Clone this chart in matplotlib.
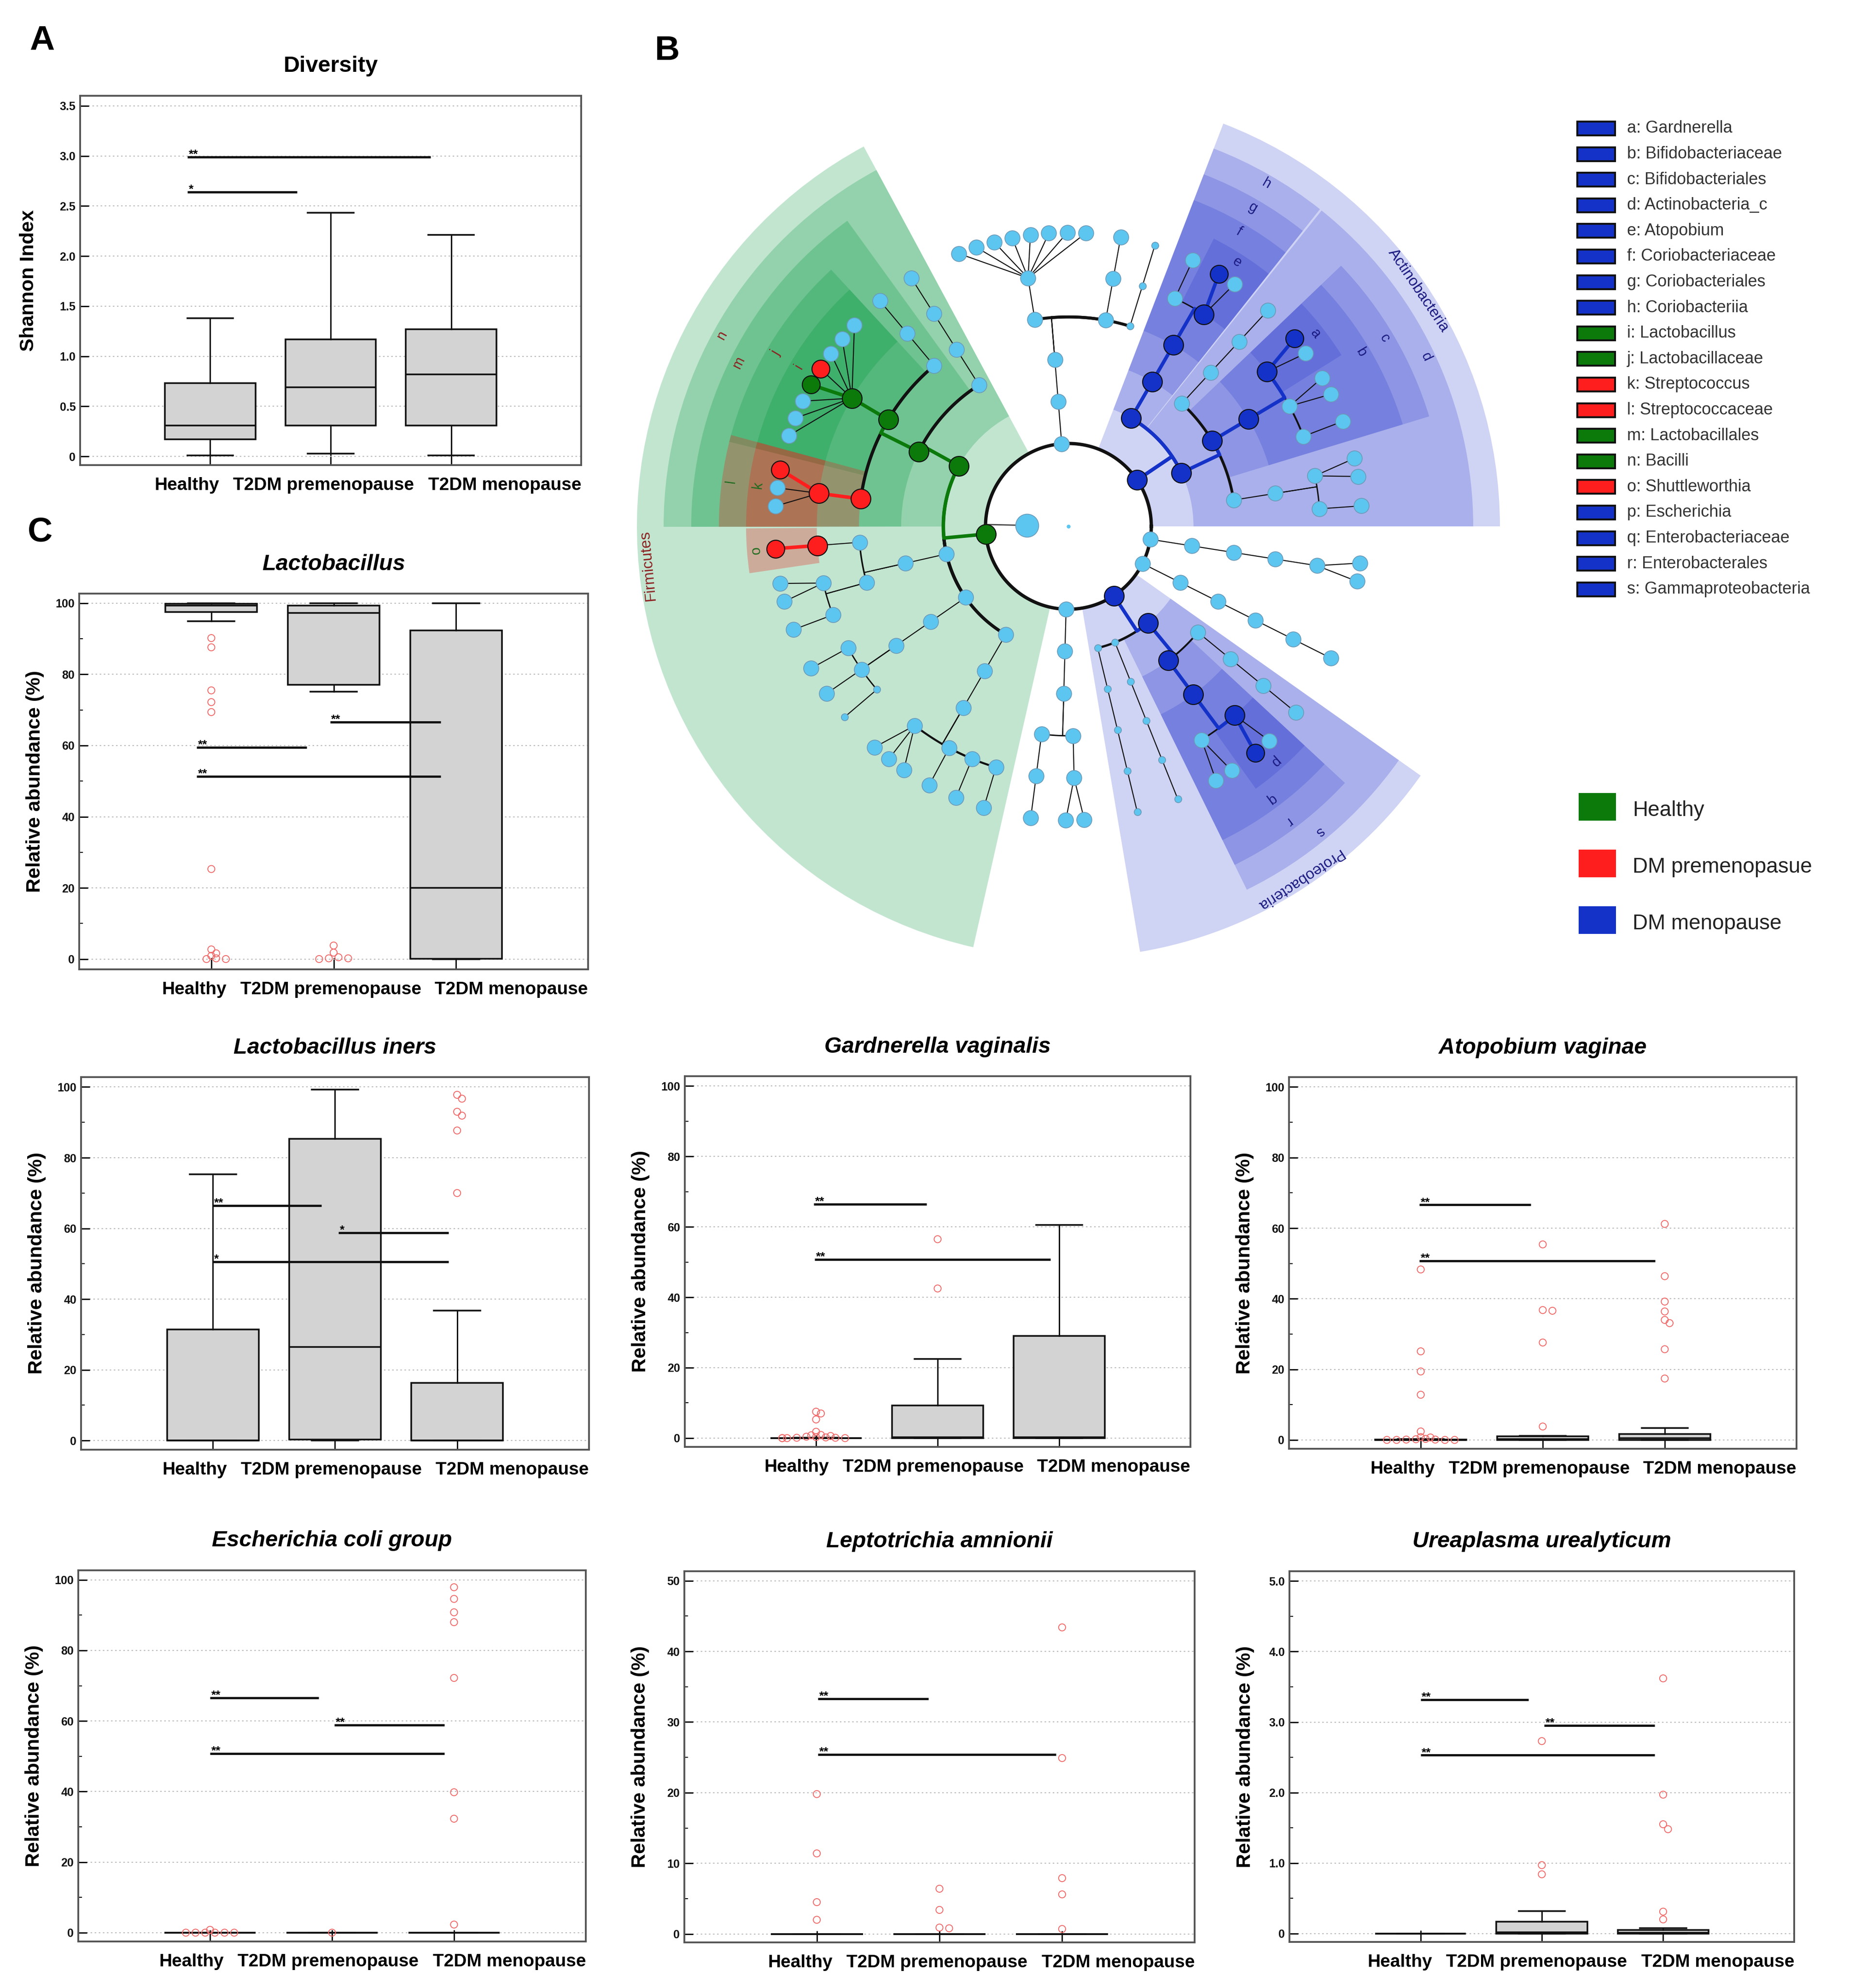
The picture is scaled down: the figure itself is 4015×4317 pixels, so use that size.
import numpy as np
import matplotlib
matplotlib.use("Agg")
import matplotlib.pyplot as plt
from matplotlib.patches import Wedge, Rectangle
from matplotlib.transforms import IdentityTransform
from matplotlib.ticker import MultipleLocator

plt.rcParams["font.family"] = ["Liberation Sans", "DejaVu Sans"]

W, H = 4015, 4317
fig = plt.figure(figsize=(W / 100, H / 100), dpi=100)

groups = ["Healthy", "T2DM premenopause", "T2DM menopause"]

# box summaries per group: whisker low, Q1, median, Q3, whisker high
div_box = [[0.01, 0.17, 0.31, 0.73, 1.38],
           [0.03, 0.31, 0.69, 1.17, 2.43],
           [0.01, 0.31, 0.82, 1.27, 2.21]]
div_out = [[], [], []]
div_sig = [(0.81, 2.83, 2.99, "**"), (0.81, 1.72, 2.64, "*")]

lac_box = [[95.0, 97.5, 99.3, 99.8, 100.0],
           [75.1, 77.1, 97.3, 99.3, 100.0],
           [0.0, 0.1, 20.0, 92.4, 100.0]]
lac_out = [[90.2, 87.6, 75.5, 72.2, 69.4, 25.3, 2.7, 1.6, 0.9, 0.2, 0.0, 0.0],
           [3.8, 1.8, 0.5, 0.2, 0.2, 0.0],
           []]
lac_sig = [(0.88, 1.78, 59.5, "**"), (0.88, 2.875, 51.3, "**"), (1.97, 2.875, 66.6, "**")]

lin_box = [[0.0, 0.0, 0.0, 31.4, 75.3],
           [0.0, 0.3, 26.5, 85.3, 99.3],
           [0.0, 0.0, 0.0, 16.3, 36.7]]
lin_out = [[], [], [97.8, 96.7, 93.0, 91.9, 87.7, 70.0]]
lin_sig = [(1.0, 1.89, 66.5, "**"), (2.03, 2.93, 58.8, "*"), (1.0, 2.93, 50.6, "*")]

gar_box = [[0.0, 0.0, 0.0, 0.0, 0.1],
           [0.0, 0.0, 0.3, 9.3, 22.5],
           [0.0, 0.0, 0.2, 29.0, 60.6]]
gar_out = [[7.5, 7.0, 5.3, 1.8, 0.9, 0.8, 0.6, 0.4, 0.3, 0.2, 0.1, 0.1, 0.0, 0.0, 0.0, 0.0],
           [56.5, 42.5],
           []]
gar_sig = [(0.98, 1.91, 66.5, "**"), (0.99, 2.93, 50.7, "**")]

ato_box = [[0.0, 0.0, 0.0, 0.1, 0.3],
           [0.0, 0.0, 0.2, 1.0, 1.2],
           [0.0, 0.0, 0.5, 1.7, 3.4]]
ato_out = [[48.3, 25.1, 19.4, 12.8, 2.4, 0.8, 0.7, 0.3, 0.2, 0.1, 0.1, 0.0, 0.0, 0.0, 0.0],
           [55.4, 36.8, 36.6, 27.6, 3.8],
           [61.2, 46.4, 39.2, 36.4, 34.0, 33.1, 25.7, 17.4]]
ato_sig = [(0.99, 1.9, 66.6, "**"), (0.99, 2.92, 50.8, "**")]

eco_box = [[0.0, 0.0, 0.0, 0.0, 0.0],
           [0.0, 0.0, 0.0, 0.0, 0.0],
           [0.0, 0.0, 0.0, 0.0, 0.0]]
eco_out = [[0.8, 0.0, 0.0, 0.0, 0.0, 0.0, 0.0],
           [0.0],
           [97.9, 94.6, 90.8, 88.0, 72.2, 39.8, 32.3, 2.3]]
eco_sig = [(1.0, 1.89, 66.6, "**"), (2.02, 2.92, 58.9, "**"), (1.0, 2.92, 50.7, "**")]

lep_box = [[0.0, 0.0, 0.0, 0.0, 0.0],
           [0.0, 0.0, 0.0, 0.0, 0.0],
           [0.0, 0.0, 0.0, 0.0, 0.0]]
lep_out = [[19.8, 11.4, 4.5, 2.0],
           [6.4, 3.4, 0.9, 0.8],
           [43.4, 24.9, 7.9, 5.6, 0.7]]
lep_sig = [(1.01, 1.91, 33.3, "**"), (1.01, 2.95, 25.4, "**")]

ure_box = [[0.0, 0.0, 0.0, 0.0, 0.0],
           [0.0, 0.0, 0.02, 0.17, 0.32],
           [0.0, 0.0, 0.01, 0.05, 0.074]]
ure_out = [[],
           [2.73, 0.97, 0.84],
           [3.62, 1.97, 1.55, 1.48, 0.31, 0.2]]
ure_sig = [(1.0, 1.89, 3.32, "**"), (2.02, 2.93, 2.95, "**"), (1.0, 2.93, 2.53, "**")]

# LEfSe biomarkers (legend of panel B)
legend_keys = list("abcdefghijklmnopqrs")
legend_names = ["Gardnerella", "Bifidobacteriaceae", "Bifidobacteriales", "Actinobacteria_c",
                "Atopobium", "Coriobacteriaceae", "Coriobacteriales", "Coriobacteriia",
                "Lactobacillus", "Lactobacillaceae", "Streptococcus", "Streptococcaceae",
                "Lactobacillales", "Bacilli", "Shuttleworthia", "Escherichia",
                "Enterobacteriaceae", "Enterobacterales", "Gammaproteobacteria"]
legend_groups = list("MMMMMMMMHHPPHHPMMMM")
phylum_groups = {"Firmicutes": "H", "Actinobacteria": "M", "Proteobacteria": "M"}
class_names = ["Healthy", "DM premenopasue", "DM menopause"]
class_keys = ["H", "P", "M"]

NODE_COL = {"H": "#0B7A0B", "P": "#FF1E1E", "M": "#1432C8"}
SHADE = {"H": "#00963C", "P": "#E8281E", "M": "#2837CD"}
ALPHA = {"H": 0.24, "P": 0.30, "M": 0.22}
LAB_COL = {"H": "#8B2020", "P": "#1E6B1E", "M": "#1A1A80"}
LB, LB_EDGE = "#5CC6F0", "#6C9AB8"


# ---------------- box panels ----------------
def swarm(ax, xc, vals):
    x0, x1 = ax.get_xlim()
    y0, y1 = ax.get_ylim()
    sx = ax.bbox.width / (x1 - x0)
    sy = ax.bbox.height / (y1 - y0)
    d = 15.0
    placed, xs = [], []
    for v in vals:
        py = v * sy
        for k in [0, 1, -1, 2, -2, 3, -3, 4, -4, 5, -5, 6, -6, 7, -7]:
            px = k * 0.7 * d
            if all(np.hypot(px - qx, py - qy) >= 0.72 * d for qx, qy in placed):
                break
        placed.append((px, py))
        xs.append(xc + px / sx)
    ax.scatter(xs, vals, s=120, facecolors="none", edgecolors="#F06A6A",
               linewidths=1.4, zorder=4, clip_on=False)


def xlabels(ax):
    rend = fig.canvas.get_renderer()
    x_right = ax.bbox.x1
    y_top = ax.bbox.y0 - 26
    for name in reversed(groups):
        t = fig.text(x_right, y_top, name, ha="right", va="top", fontsize=28,
                     fontweight="bold", transform=IdentityTransform())
        x_right -= t.get_window_extent(rend).width + 30


def panel(rect, title, box, out, sig, ylim, major, labels, minor=None,
          ylabel="Relative abundance (%)", italic=True, ylab_off=96):
    l, t, r, b = rect
    ax = fig.add_axes([l / W, 1 - b / H, (r - l) / W, (b - t) / H])
    stats = [dict(whislo=v[0], q1=v[1], med=v[2], q3=v[3], whishi=v[4], fliers=[])
             for v in box]
    ax.bxp(stats, positions=[1, 2, 3], widths=0.75, capwidths=0.38, patch_artist=True,
           showfliers=False,
           boxprops=dict(facecolor="#D3D3D3", edgecolor="#111111", linewidth=2.6),
           medianprops=dict(color="#111111", linewidth=2.6),
           whiskerprops=dict(color="#111111", linewidth=2.2),
           capprops=dict(color="#111111", linewidth=2.6))
    ax.set_xlim(-0.08, 4.08)
    ax.set_ylim(*ylim)
    ax.set_xticks([1, 2, 3])
    ax.set_xticklabels([])
    ax.set_yticks(major)
    ax.set_yticklabels(labels, fontsize=18, fontweight="bold", color="#111111")
    if minor:
        ax.yaxis.set_minor_locator(MultipleLocator(minor))
    ax.tick_params(axis="y", which="major", direction="in", length=14, width=2, pad=7)
    ax.tick_params(axis="y", which="minor", direction="in", length=6, width=1.5)
    ax.tick_params(axis="x", direction="in", length=18, width=2)
    ax.yaxis.grid(True, which="major", linestyle=(0, (1.5, 2.5)), color="#BBBBBB", lw=1.6)
    ax.set_axisbelow(True)
    for s in ax.spines.values():
        s.set_color("#555555")
        s.set_linewidth(2.8)
    for x0, x1, y, lab in sig:
        ax.plot([x0, x1], [y, y], color="#111111", lw=3.5, solid_capstyle="butt", zorder=5)
        ax.annotate(lab, (x0, y), xytext=(2, -1), textcoords="offset points", ha="left",
                    va="baseline", fontsize=19, fontweight="bold", zorder=6)
    for i, vals in enumerate(out):
        if vals:
            swarm(ax, i + 1, vals)
    h = b - t
    w = r - l
    ax.text(0.5, 1 + 64 / h, title, transform=ax.transAxes, ha="center", va="center",
            fontsize=35, fontweight="bold", style="italic" if italic else "normal")
    ax.text(-ylab_off / w, 0.5, ylabel, transform=ax.transAxes, rotation=90, ha="center",
            va="center", fontsize=31, fontweight="bold")
    xlabels(ax)
    return ax


pct = [0, 20, 40, 60, 80, 100]
pct_lab = [str(v) for v in pct]
div_t = [0, 0.5, 1.0, 1.5, 2.0, 2.5, 3.0, 3.5]
div_lab = ["0"] + ["%.1f" % v for v in div_t[1:]]
lep_t = [0, 10, 20, 30, 40, 50]
ure_t = [0, 1, 2, 3, 4, 5]
ure_lab = ["0"] + ["%.1f" % v for v in ure_t[1:]]

panel((174, 208, 1262, 1010), "Diversity", div_box, div_out, div_sig, (-0.087, 3.6),
      div_t, div_lab, ylabel="Shannon Index", italic=False, ylab_off=112)
panel((172, 1289, 1277, 2105), "Lactobacillus", lac_box, lac_out, lac_sig, (-2.9, 102.7),
      pct, pct_lab, minor=10)
panel((176, 2339, 1279, 3148), "Lactobacillus iners", lin_box, lin_out, lin_sig,
      (-2.6, 102.8), pct, pct_lab, minor=10)
panel((1487, 2337, 2585, 3142), "Gardnerella vaginalis", gar_box, gar_out, gar_sig,
      (-2.5, 102.8), pct, pct_lab, minor=10)
panel((2799, 2339, 3901, 3146), "Atopobium vaginae", ato_box, ato_out, ato_sig,
      (-2.5, 102.8), pct, pct_lab, minor=10)
panel((170, 3410, 1272, 4216), "Escherichia coli group", eco_box, eco_out, eco_sig,
      (-2.5, 102.7), pct, pct_lab, minor=10)
panel((1486, 3412, 2594, 4218), "Leptotrichia amnionii", lep_box, lep_out, lep_sig,
      (-1.2, 51.35), lep_t, [str(v) for v in lep_t], minor=5)
panel((2800, 3412, 3896, 4217), "Ureaplasma urealyticum", ure_box, ure_out, ure_sig,
      (-0.12, 5.14), ure_t, ure_lab, minor=0.5)


# ---------------- panel B: cladogram ----------------
def node(tag, *kids):
    return [tag, list(kids)]


def sp(tag=""):
    return [tag, []]


def line(k, tag=""):
    n = sp(tag)
    for _ in range(k - 1):
        n = [tag, [n]]
    return n


# root > phylum > class > order > family > genus > species
tree = node("root",
    node("Actinobacteria",
        node("d",
            node("", node("", line(2), node("", sp(), sp()))),
            node("c", node("b", line(2), node("", sp(), sp()), node("a", sp(), sp("M")))),
            line(4)),
        node("h", node("g", node("f", node("e", sp(), sp("M")), line(2))))),
    node("", node("", node("", line(3, "x"), line(3),
                           node("", node("", *[sp() for _ in range(8)]))))),
    node("Firmicutes",
        node("n",
            line(4),
            node("m", line(3),
                 node("j", node("i", sp(), sp(), sp(), sp("P"), sp("H"), sp(), sp(), sp())),
                 node("l", node("k", sp("P"), sp(), sp())))),
        node("", node("", node("", node("o", sp("P"))),
                      node("", node("", sp(), sp()), line(2)))),
        node("", node("", node("", line(2), line(2), line(2, "x")))),
        node("", node("", node("", node("", sp(), sp(), sp()), line(2), line(2), line(2))))),
    node("", node("", node("", line(3), node("", node("", sp(), sp()))))),
    node("Proteobacteria",
        line(5, "x"), line(5, "x"),
        node("s", node("r", node("q", node("", sp(), sp()), node("p", sp("M"), sp()))),
             line(4))),
    line(6),
    node("", node("", node("", node("", node("", sp(), sp()))))),
)

BIOMARK = dict(zip(legend_keys, legend_groups))
BIOMARK.update(phylum_groups)


def group_of(tag):
    if tag in ("H", "P", "M"):
        return tag
    return BIOMARK.get(tag)


leaves = []


def walk(n, path):
    path = path + [n]
    if not n[1]:
        leaves.append(path)
    for c in n[1]:
        walk(c, path)


walk(tree, [])


def lca_depth(p, q):
    d = 0
    for a, b in zip(p, q):
        if a is b:
            d += 1
        else:
            break
    return d - 1


def phylum_index(path):
    return [id(c) for c in tree[1]].index(id(path[1]))


# angular gap weights between neighbouring leaves, by depth of their common ancestor
GAPW = {1: 2.3, 2: 2.1, 3: 1.9, 4: 1.6, 5: 1.0}
# gap after each phylum (in tree order)
ROOT_GAPS = [2.2, 2.9, 2.6, 2.9, 3.5, 4.4, 3.1]
START = 4.0
cum = [0.0]
for i in range(1, len(leaves)):
    dd = lca_depth(leaves[i - 1], leaves[i])
    gap = ROOT_GAPS[phylum_index(leaves[i - 1])] if dd == 0 else GAPW[dd]
    cum.append(cum[-1] + gap)
unit = 360.0 / (cum[-1] + ROOT_GAPS[-1])
leaf_ang = {id(p[-1]): START + c * unit for p, c in zip(leaves, cum)}
info = {}


def place(n, depth):
    if not n[1]:
        angs = [leaf_ang[id(n)]]
    else:
        angs = []
        for c in n[1]:
            angs += place(c, depth + 1)
    info[id(n)] = dict(depth=depth, ang=float(np.mean(angs)), lo=min(angs), hi=max(angs),
                       nleaf=len(angs))
    return angs


place(tree, 0)


def all_nodes(n, parent=None):
    yield n, parent
    for c in n[1]:
        yield from all_nodes(c, n)


def R(depth):
    return 0.0 if depth == 0 else 180 + (depth - 1) * 91.6


R_OUT = {1: 937, 2: 879, 3: 819, 4: 759, 5: 700}
PAD = 4.0


def xy(r, a):
    t = np.deg2rad(a)
    return r * np.cos(t), r * np.sin(t)


cx, cy = 2320, 1143
cl = fig.add_axes([(cx - 1000) / W, 1 - (cy + 1000) / H, 2000 / W, 2000 / H])
cl.set_xlim(-1000, 1000)
cl.set_ylim(-1000, 1000)
cl.axis("off")

for n, par in all_nodes(tree):
    g = group_of(n[0])
    inf = info[id(n)]
    if g and n[1]:
        d = inf["depth"]
        cl.add_patch(Wedge((0, 0), R_OUT[d], inf["lo"] - PAD, inf["hi"] + PAD,
                           width=R_OUT[d] - R(d), facecolor=SHADE[g], alpha=ALPHA[g],
                           edgecolor="none", zorder=1))
        lx, ly = xy(R_OUT[d] - 20, inf["ang"])
        cl.text(lx, ly, n[0], rotation=inf["ang"] - 90, rotation_mode="anchor",
                ha="center", va="center", fontsize=24 if d == 1 else 22,
                color=LAB_COL[g], zorder=6)

# root circle
tt = np.linspace(0, 360, 361)
cl.plot(*xy(180, tt), color="#111111", lw=5.2, zorder=2)

for n, par in all_nodes(tree):
    if par is None or par is tree:
        continue
    P, C = info[id(par)], info[id(n)]
    rp, ap = R(P["depth"]), P["ang"]
    rc, ac = R(C["depth"]), C["ang"]
    if not n[1]:
        pts = np.array([xy(rp, ap), xy(rc, ac)])
        cl.plot(pts[:, 0], pts[:, 1], color="#111111", lw=1.6, zorder=2)
    else:
        rad = np.array([xy(rp, ap), xy(rc, ap)])
        aa = np.linspace(ap, ac, max(2, int(abs(ac - ap)) + 2))
        arc = np.array(xy(rc, aa)).T
        lw = 1.4 + 3.6 * min(1.0, (P["nleaf"] - 1) / 10.0)
        cl.plot(rad[:, 0], rad[:, 1], color="#111111", lw=1.6, zorder=2)
        cl.plot(arc[:, 0], arc[:, 1], color="#111111", lw=lw, zorder=2,
                solid_capstyle="round")
        pts = np.vstack([rad, arc])
    gp, gc = group_of(par[0]), group_of(n[0])
    if gp and gp == gc:
        cl.plot(pts[:, 0], pts[:, 1], color=NODE_COL[gc], lw=5.5, zorder=3,
                solid_capstyle="round")

for n, par in all_nodes(tree):
    if par is None:
        continue
    inf = info[id(n)]
    x, y = xy(R(inf["depth"]), inf["ang"])
    g = group_of(n[0])
    if g:
        cl.scatter(x, y, s=950 if n[1] else 780, color=NODE_COL[g], edgecolors="#111111",
                   linewidths=1.6, zorder=4)
    elif n[0] == "x":
        cl.scatter(x, y, s=120, color=LB, edgecolors=LB_EDGE, linewidths=1.2, zorder=4)
    else:
        cl.scatter(x, y, s=560, color=LB, edgecolors=LB_EDGE, linewidths=1.2, zorder=4)

# unclassified bacteria node inside the root circle, and the root itself
ux, uy = xy(90, 178.7)
ex, ey = xy(180, 178.7)
cl.plot([ux, ex], [uy, ey], color="#444444", lw=2, zorder=2)
cl.scatter(ux, uy, s=1300, color=LB, edgecolors=LB_EDGE, linewidths=1.2, zorder=4)
cl.scatter(0, 0, s=25, color=LB, zorder=4)

# ---------------- overlay: legends and panel letters ----------------
ov = fig.add_axes([0, 0, 1, 1])
ov.set_xlim(0, W)
ov.set_ylim(H, 0)
ov.axis("off")

for i, (k, name, g) in enumerate(zip(legend_keys, legend_names, legend_groups)):
    y = 279 + i * 55.6
    ov.add_patch(Rectangle((3425, y - 15), 82, 30, facecolor=NODE_COL[g],
                           edgecolor="#111111", lw=3))
    ov.text(3533, y, "%s: %s" % (k, name), fontsize=26, va="center", color="#333333")

for i, (name, g) in enumerate(zip(class_names, class_keys)):
    y = 1752 + i * 123
    ov.add_patch(Rectangle((3428, y - 30), 81, 60, facecolor=NODE_COL[g], edgecolor="none"))
    ov.text(3545, y + 8, name, fontsize=33, va="center", color="#222222")

for lab, (x, y) in zip("ABC", [(91, 88), (1449, 110), (87, 1156)]):
    ov.text(x, y, lab, fontsize=54, fontweight="bold", ha="center", va="center")

fig.savefig("out.png", dpi=100)
